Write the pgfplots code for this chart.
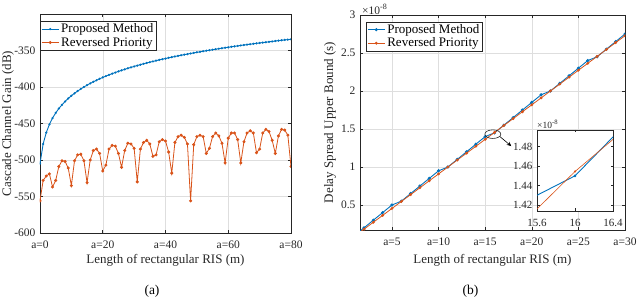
\documentclass[border=0pt]{standalone}
\usepackage{fontspec}
\setmainfont{Liberation Serif}
\usepackage{pgfplots}
\pgfplotsset{compat=1.18}
\usetikzlibrary{arrows.meta}
\definecolor{mblue}{rgb}{0,0.447,0.741}
\definecolor{morange}{rgb}{0.850,0.325,0.098}
\definecolor{axgray}{rgb}{0.15,0.15,0.15}
\pgfplotsset{common/.style={
  scale only axis, anchor=south west,
  axis line style={axgray, line width=0.5pt},
  tick style={axgray, line width=0.5pt},
  tick align=inside, major tick length=3pt,
  grid=major, grid style={line width=0.4pt, black!13},
  ticklabel style={font=\fontsize{11.5}{13}\selectfont, text=axgray},
  xticklabel style={yshift=-4pt},
  yticklabel style={xshift=-1pt},
  label style={font=\fontsize{13}{15}\selectfont, text=axgray},
  legend style={font=\fontsize{13}{15}\selectfont, draw=axgray, line width=0.5pt,
     inner xsep=1pt, inner ysep=0.5pt, row sep=-1pt, anchor=north west},
  legend cell align=left,
  /pgf/number format/assume math mode=true,
  clip marker paths=true,
}}
\begin{document}
\begin{tikzpicture}
\path[use as bounding box] (0,0) rectangle (640pt,300pt);
% ---------------- (a)
\begin{axis}[common, at={(40pt,67pt)}, width=251pt, height=219pt,
  xmin=0, xmax=80, ymin=-600, ymax=-300,
  xtick={0,20,40,60,80}, xticklabels={a=0,a=20,a=40,a=60,a=80},
  ytick={-600,-550,-500,-450,-400,-350},
  yticklabels={-600,-550,-500,-450,-400,-350},
  xlabel={Length of rectangular RIS (m)},
  ylabel={Cascade Channel Gain (dB)},
  xlabel style={at={(axis description cs:0.5,-0.123)}, anchor=center},
  ylabel style={at={(axis description cs:-0.1275,0.5)}, anchor=center},
  legend style={at={(0.0,0.968)}},
]
\addplot[mblue, line width=0.9pt, mark=*, mark size=0.6pt] coordinates {
(0,-505.0) (1,-478.1) (2,-462.4) (3,-451.2) (4,-442.6) (5,-435.5) (6,-429.5) (7,-424.4) (8,-419.8) (9,-415.7)
(10,-412.0) (11,-408.6) (12,-405.5) (13,-402.7) (14,-400.0) (15,-397.5) (16,-395.1) (17,-392.9) (18,-390.8) (19,-388.8)
(20,-386.9) (21,-385.1) (22,-383.4) (23,-381.7) (24,-380.2) (25,-378.6) (26,-377.2) (27,-375.8) (28,-374.4) (29,-373.1)
(30,-371.8) (31,-370.6) (32,-369.4) (33,-368.2) (34,-367.1) (35,-366.0) (36,-365.0) (37,-363.9) (38,-362.9) (39,-361.9)
(40,-361.0) (41,-360.0) (42,-359.1) (43,-358.2) (44,-357.4) (45,-356.5) (46,-355.7) (47,-354.9) (48,-354.1) (49,-353.3)
(50,-352.5) (51,-351.8) (52,-351.0) (53,-350.3) (54,-349.6) (55,-348.9) (56,-348.2) (57,-347.5) (58,-346.9) (59,-346.2)
(60,-345.6) (61,-344.9) (62,-344.3) (63,-343.7) (64,-343.1) (65,-342.5) (66,-341.9) (67,-341.4) (68,-340.8) (69,-340.2)
(70,-339.7) (71,-339.1) (72,-338.6) (73,-338.1) (74,-337.6) (75,-337.0) (76,-336.5) (77,-336.0) (78,-335.5) (79,-335.1)
(80,-334.6)};
\addlegendentry{Proposed Method}
\addplot[morange, line width=0.8pt, mark=*, mark size=1.1pt] coordinates {
(0,-556) (1,-528) (2,-522) (3,-519) (4,-537) (5,-528) (6,-509) (7,-501) (8,-502) (9,-511)
(10,-535) (11,-501) (12,-493) (13,-492) (14,-501) (15,-531) (16,-500) (17,-487) (18,-485) (19,-491)
(20,-515) (21,-507) (22,-485) (23,-480) (24,-481) (25,-491) (26,-510) (27,-487) (28,-477) (29,-478)
(30,-484) (31,-530) (32,-485) (33,-476) (34,-473) (35,-478) (36,-495) (37,-493) (38,-475) (39,-472)
(40,-474) (41,-489) (42,-518) (43,-476) (44,-468) (45,-466) (46,-469) (47,-478) (48,-556) (49,-479)
(50,-468) (51,-466) (52,-468) (53,-491) (54,-484) (55,-468) (56,-463) (57,-467) (58,-477) (59,-504)
(60,-470) (61,-463) (62,-463) (63,-472) (64,-504) (65,-475) (66,-463) (67,-460) (68,-463) (69,-490)
(70,-485) (71,-463) (72,-458) (73,-461) (74,-473) (75,-491) (76,-467) (77,-458) (78,-459) (79,-466)
(80,-509)};
\addlegendentry{Reversed Priority}
\end{axis}
% ---------------- (b)
\begin{axis}[common, at={(360pt,70pt)}, width=265pt, height=215pt,
  xmin=1.57, xmax=30, ymin=0.171, ymax=3,
  xtick={5,10,15,20,25,30}, xticklabels={a=5,a=10,a=15,a=20,a=25,a=30},
  ytick={0.5,1,1.5,2,2.5,3}, yticklabels={0.5,1,1.5,2,2.5,3},
  xlabel={Length of rectangular RIS (m)},
  ylabel={Delay Spread Upper Bound (s)},
  xlabel style={at={(axis description cs:0.5,-0.14)}, anchor=center},
  ylabel style={at={(axis description cs:-0.113,0.5)}, anchor=center},
  legend style={at={(0.023,0.969)}},
]
\addplot[mblue, line width=0.9pt, mark=*, mark size=1.1pt] coordinates {
(1,0.1) (2,0.2) (3,0.3) (4,0.4) (5,0.5) (6,0.55) (7,0.65) (8,0.75) (9,0.85) (10,0.95)
(11,1.0) (12,1.1) (13,1.2) (14,1.3) (15,1.4) (16,1.45) (17,1.55) (18,1.65) (19,1.75) (20,1.85)
(21,1.95) (22,2.0) (23,2.1) (24,2.2) (25,2.3) (26,2.4) (27,2.45) (28,2.55) (29,2.65) (30,2.75)};
\addlegendentry{Proposed Method}
\addplot[morange, line width=0.8pt, mark=*, mark size=1.0pt] coordinates {
(1,0.0909) (2,0.1818) (3,0.2727) (4,0.3636) (5,0.4545) (6,0.5455) (7,0.6364) (8,0.7273) (9,0.8182) (10,0.9091)
(11,1.0) (12,1.0909) (13,1.1818) (14,1.2727) (15,1.3636) (16,1.4545) (17,1.5455) (18,1.6364) (19,1.7273) (20,1.8182)
(21,1.9091) (22,2.0) (23,2.0909) (24,2.1818) (25,2.2727) (26,2.3636) (27,2.4545) (28,2.5455) (29,2.6364) (30,2.7273)};
\addlegendentry{Reversed Priority}
\draw[axgray, line width=0.6pt] (axis cs:15.82,1.432) ellipse [x radius=8pt, y radius=4.3pt];
\draw[black, line width=0.6pt, -{Stealth[length=4.5pt,width=4pt]}] (axis cs:16.59,1.399) -- (axis cs:17.8,1.275);
\end{axis}
\node[anchor=south west, inner sep=0pt, text=axgray, font=\fontsize{11.5}{13}\selectfont] at (362pt,285.5pt) {×10\textsuperscript{-8}};
% ---------------- inset
\begin{axis}[common, at={(537pt,89pt)}, width=76pt, height=81pt,
  grid=none, axis background/.style={fill=white},
  xmin=15.6, xmax=16.4, ymin=1.4138, ymax=1.4972,
  xtick={15.6,16,16.4}, xticklabels={15.6,16,16.4},
  ytick={1.42,1.44,1.46,1.48}, yticklabels={1.42,1.44,1.46,1.48},
  ticklabel style={font=\fontsize{11}{12}\selectfont},
  xticklabel style={yshift=-1pt},
  major tick length=2.5pt,
]
\addplot[mblue, line width=0.9pt, mark=*, mark size=0.8pt] coordinates {(15,1.4) (16,1.45) (17,1.55)};
\addplot[morange, line width=0.6pt, mark=*, mark size=0.8pt] coordinates {(15,1.358) (16,1.4545) (17,1.537)};
\end{axis}
\node[anchor=south west, inner sep=0pt, text=axgray, font=\fontsize{9.5}{11}\selectfont] at (537pt,171pt) {×10\textsuperscript{-8}};
\node[text=black, font=\fontsize{13.5}{15}\selectfont] at (152pt,8.5pt) {(a)};
\node[text=black, font=\fontsize{13.5}{15}\selectfont] at (470.5pt,8.5pt) {(b)};
\end{tikzpicture}
\end{document}
